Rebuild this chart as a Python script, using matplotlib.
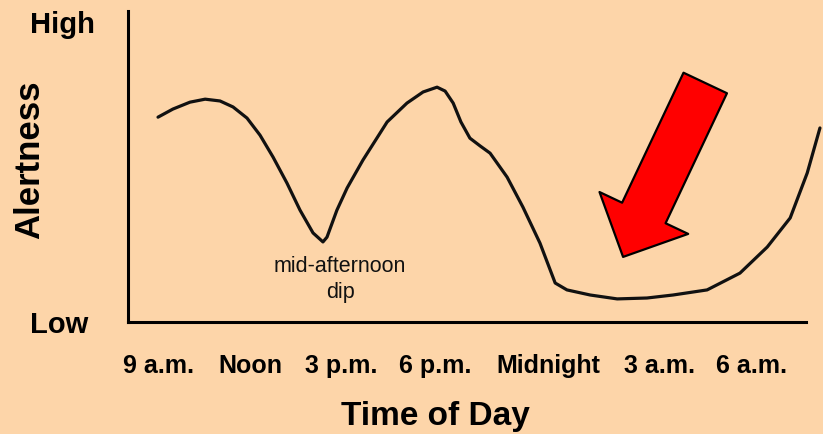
import matplotlib
matplotlib.use("Agg")
import matplotlib.pyplot as plt

# ---- data (hours after 9 a.m., alertness 0=Low .. 100=High) ----
hours = [0.00, 0.48, 1.03, 1.52, 2.00, 2.42, 2.87, 3.29, 3.71, 4.16, 4.58, 5.00,
         5.32, 5.45, 5.77, 6.10, 6.61, 7.39, 8.03, 8.55, 9.00, 9.26, 9.52, 9.77,
         10.06, 10.39, 10.71, 11.26, 11.77, 12.32, 12.81, 13.19, 13.94, 14.81,
         15.77, 16.61, 17.71, 18.77, 19.65, 20.39, 20.94, 21.35]
alertness = [68.3, 71.0, 73.3, 74.3, 73.7, 71.7, 68.0, 62.3, 55.0, 46.3, 37.3, 29.7,
             26.7, 28.3, 37.3, 44.7, 54.0, 66.7, 73.0, 76.7, 78.3, 77.0, 73.0, 66.7,
             61.3, 58.7, 56.3, 48.3, 38.3, 26.3, 13.0, 10.7, 9.0, 7.7,
             8.0, 9.0, 10.7, 16.3, 25.0, 34.7, 49.7, 64.7]

x_tick_labels = ["9 a.m.", "Noon", "3 p.m.", "6 p.m.", "Midnight", "3 a.m.", "6 a.m."]
y_tick_labels = ["Low", "High"]

# ---- layout ----
x_tick_pos = [0.0, 2.97, 5.90, 8.94, 12.58, 16.16, 19.13]
y_tick_pos = [0, 100]
BG = "#FDD5A9"
FONT = "Liberation Sans"

plt.rcParams["font.family"] = [FONT, "DejaVu Sans"]

fig = plt.figure(figsize=(8.23, 4.34), dpi=100, facecolor=BG)
ax = fig.add_axes([128 / 823, 1 - 322 / 434, (806 - 128) / 823, (322 - 11) / 434])
ax.set_facecolor(BG)

ax.plot(hours, alertness, color="#111111", lw=2.3, solid_capstyle="round",
        solid_joinstyle="round", clip_on=False)

ax.set_xlim(-0.968, 20.90)
ax.set_ylim(0, 103.7)

for s in ["top", "right"]:
    ax.spines[s].set_visible(False)
for s in ["left", "bottom"]:
    ax.spines[s].set_linewidth(2.2)
    ax.spines[s].set_color("#000000")

ax.set_xticks(x_tick_pos)
ax.set_xticklabels(x_tick_labels, fontsize=18, fontweight="bold")
ax.tick_params(axis="x", length=0, pad=23)

ax.set_yticks(y_tick_pos)
ax.set_yticklabels(y_tick_labels, fontsize=21, fontweight="bold", ha="left")
ax.tick_params(axis="y", length=0, pad=70.6)

ax.set_xlabel("Time of Day", fontsize=24, fontweight="bold")
ax.xaxis.label.set_va("center")
ax.xaxis.set_label_coords((435 - 128) / 678, -(416 - 322) / 311)
ax.set_ylabel("Alertness", fontsize=25, fontweight="bold")
ax.yaxis.label.set_va("center")
ax.yaxis.set_label_coords((30 - 128) / 678, (322 - 160) / 311)

ax.text((340 - 158) / 31, (322 - 256) / 3, "mid-afternoon\ndip", ha="center", va="top",
        fontsize=15.5, color="#111111", linespacing=1.3)

# big red arrow pointing to the night-time trough
ax.annotate("", xy=(15.0, 21.7), xytext=(17.65, 79.7),
            arrowprops=dict(arrowstyle="simple,head_length=35,head_width=70.6,tail_width=34.6",
                            mutation_scale=1, fc="#FF0000", ec="#000000", lw=1.6,
                            shrinkA=0, shrinkB=0))

fig.savefig("out.png", dpi=100, facecolor=BG)
